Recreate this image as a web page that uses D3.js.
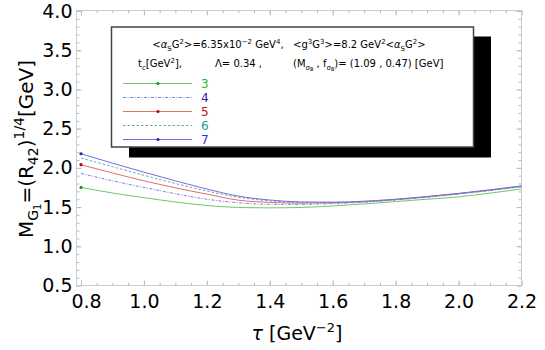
<!DOCTYPE html>
<html>
<head>
<meta charset="utf-8">
<script src="https://cdn.jsdelivr.net/npm/d3@7"></script>
<style>
  body { margin: 0; background: #fff; }
  svg { display: block; font-family: "DejaVu Sans", sans-serif; }
</style>
</head>
<body>
<svg id="chart"></svg>
<script>
// tau values [GeV^-2] and M_G1 curves for each t_c
var tau   = [0.8, 0.9, 1.0, 1.1, 1.2, 1.3, 1.4, 1.5, 1.6, 1.7, 1.8, 1.9, 2.0, 2.1, 2.2];
var tc3   = [1.75, 1.68, 1.62, 1.565, 1.52, 1.495, 1.49, 1.495, 1.515, 1.54, 1.57, 1.60, 1.63, 1.678, 1.73];
var tc4   = [1.93, 1.835, 1.75, 1.67, 1.60, 1.555, 1.535, 1.535, 1.545, 1.562, 1.59, 1.625, 1.665, 1.71, 1.758];
var tc5   = [2.04, 1.935, 1.835, 1.745, 1.665, 1.588, 1.56, 1.55, 1.553, 1.568, 1.595, 1.63, 1.67, 1.715, 1.763];
var tc6   = [2.125, 2.015, 1.905, 1.80, 1.705, 1.625, 1.58, 1.56, 1.56, 1.572, 1.598, 1.633, 1.672, 1.718, 1.765];
var tc7   = [2.18, 2.06, 1.945, 1.835, 1.73, 1.64, 1.59, 1.565, 1.562, 1.575, 1.60, 1.635, 1.675, 1.72, 1.77];
var tcLabels = ["3", "4", "5", "6", "7"];
var xTicks = [0.8, 1.0, 1.2, 1.4, 1.6, 1.8, 2.0, 2.2];
var yTicks = [0.5, 1.0, 1.5, 2.0, 2.5, 3.0, 3.5, 4.0];

var series = [tc3, tc4, tc5, tc6, tc7];
var styles = [
  {line: "#66cc66", text: "#22bb22", dash: null,          dot: "#119911"},
  {line: "#8080dd", text: "#2a2aa0", dash: "3,1.5,1,1.5", dot: null},
  {line: "#dd7070", text: "#bb1111", dash: null,          dot: "#bb0000"},
  {line: "#70a8a8", text: "#229999", dash: "2.5,2",       dot: null},
  {line: "#7070dd", text: "#3030ee", dash: null,          dot: "#2020bb"}
];

var W = 545, H = 350;
var frame = {left: 76.5, right: 521.5, top: 10.5, bottom: 285.5};

var svg = d3.select("#chart").attr("width", W).attr("height", H);

var x = d3.scaleLinear().domain([0.8, 2.2]).range([81, frame.right]);
var y = d3.scaleLinear().domain([0.5, 4.0]).range([frame.bottom, 11]);

// helper for text with sub/superscripts: parts = [text, shift px, size]
function rich(t, parts) {
  var cur = 0;
  parts.forEach(function(p) {
    var s = t.append("tspan").attr("dy", p[1] - cur).attr("font-size", p[2]).text(p[0]);
    if (p[3]) s.attr("font-style", p[3]);
    cur = p[1];
  });
}

// frame and ticks
var minorX = d3.range(0.8, 2.2001, 0.05);
var minorY = d3.range(0.5, 4.0001, 0.1);

function axisGroup(axis, tx, ty) {
  var g = svg.append("g").attr("transform", "translate(" + tx + "," + ty + ")").call(axis);
  g.select(".domain").remove();
  g.selectAll("line").attr("stroke", "#bbb");
  return g;
}

axisGroup(d3.axisBottom(x).tickValues(minorX).tickSize(-3).tickFormat(""), 0, frame.bottom);
axisGroup(d3.axisTop(x).tickValues(minorX).tickSize(-3).tickFormat(""), 0, frame.top);
axisGroup(d3.axisLeft(y).tickValues(minorY).tickSize(-3).tickFormat(""), frame.left, 0);
axisGroup(d3.axisRight(y).tickValues(minorY).tickSize(-3).tickFormat(""), frame.right, 0);
axisGroup(d3.axisTop(x).tickValues(xTicks).tickSize(-5).tickFormat(""), 0, frame.top);
axisGroup(d3.axisRight(y).tickValues(yTicks).tickSize(-5).tickFormat(""), frame.right, 0);

var gx = axisGroup(d3.axisBottom(x).tickValues(xTicks).tickSize(-5).tickPadding(9).tickFormat(d3.format(".1f")), 0, frame.bottom);
gx.selectAll("text").attr("font-size", 19).attr("fill", "#000").attr("font-family", "DejaVu Sans")
  .attr("dx", function(d) { return d === 0.8 ? 5 : 0; });

var gy = axisGroup(d3.axisLeft(y).tickValues(yTicks).tickSize(-5).tickPadding(4).tickFormat(d3.format(".1f")), frame.left, 0);
gy.selectAll("text").attr("font-size", 19).attr("fill", "#000").attr("font-family", "DejaVu Sans");

svg.append("rect")
  .attr("x", frame.left).attr("y", frame.top)
  .attr("width", frame.right - frame.left).attr("height", frame.bottom - frame.top)
  .attr("fill", "none").attr("stroke", "#ccc").attr("stroke-width", 1);

// curves
var line = d3.line()
  .x(function(d, i) { return x(tau[i]); })
  .y(function(d) { return y(d); })
  .curve(d3.curveMonotoneX);

series.forEach(function(vals, k) {
  var st = styles[k];
  svg.append("path")
    .attr("d", line(vals))
    .attr("fill", "none")
    .attr("stroke", st.line)
    .attr("stroke-width", 1)
    .attr("stroke-dasharray", st.dash);
  if (st.dot) {
    svg.append("circle").attr("cx", x(tau[0])).attr("cy", y(vals[0])).attr("r", 1.6).attr("fill", st.dot);
  }
});

// legend box with shadow
svg.append("rect").attr("x", 129).attr("y", 36.5).attr("width", 362).attr("height", 121).attr("fill", "#000");
svg.append("rect").attr("x", 111.5).attr("y", 27).attr("width", 362).attr("height", 120)
  .attr("fill", "#fff").attr("stroke", "#444").attr("stroke-width", 1.5);

var fs = 10, ss = 7;
var l1 = svg.append("text").attr("x", 289).attr("y", 48).attr("text-anchor", "middle")
  .style("white-space", "pre").attr("font-size", fs);
rich(l1, [["<", 0, fs], ["α", 0, fs, "italic"], ["S", 2.5, ss], ["G", 0, fs], ["2", -4, ss],
  [">=6.35x10", 0, fs], ["−2", -4, ss], [" GeV", 0, fs], ["4", -4, ss], [",   <g", 0, fs],
  ["3", -4, ss], ["G", 0, fs], ["3", -4, ss], [">=8.2 GeV", 0, fs], ["2", -4, ss],
  ["<", 0, fs], ["α", 0, fs, "italic"], ["S", 2.5, ss], ["G", 0, fs], ["2", -4, ss], [">", 0, fs]]);

var l2a = svg.append("text").attr("x", 138).attr("y", 67).attr("font-size", fs);
rich(l2a, [["t", 0, fs], ["c", 2.5, ss], ["[GeV", 0, fs], ["2", -4, ss], ["],", 0, fs]]);
var l2b = svg.append("text").attr("x", 215).attr("y", 67).attr("font-size", fs).style("white-space", "pre");
rich(l2b, [["Λ= 0.34 ,", 0, fs]]);
var l2c = svg.append("text").attr("x", 293).attr("y", 67).attr("font-size", fs).style("white-space", "pre");
rich(l2c, [["(M", 0, fs], ["σ", 2.5, ss], ["B", 4, 5], [" , f", 0, fs], ["σ", 2.5, ss], ["B", 4, 5],
  [")= (1.09 , 0.47) [GeV]", 0, fs]]);

var legY = d3.scalePoint().domain(tcLabels).range([83.5, 139.5]);
tcLabels.forEach(function(lab, k) {
  var st = styles[k];
  var yy = legY(lab);
  svg.append("line").attr("x1", 123).attr("x2", 192).attr("y1", yy).attr("y2", yy)
    .attr("stroke", st.line).attr("stroke-width", 1).attr("stroke-dasharray", st.dash);
  if (st.dot) svg.append("circle").attr("cx", 158).attr("cy", yy).attr("r", 1.6).attr("fill", st.dot);
  svg.append("text").attr("x", 201).attr("y", yy + 4.5).attr("font-size", 12)
    .attr("fill", st.text).text(lab);
});

// axis titles
var yt = svg.append("text").attr("transform", "translate(33,149) rotate(-90)")
  .attr("text-anchor", "middle").attr("font-size", 20);
rich(yt, [["M", 0, 20], ["G", 5, 14], ["1", 8, 10], ["=(R", 0, 20], ["42", 5, 14], [")", 0, 20],
  ["1/4", -9, 14], ["[GeV]", 0, 20]]);

var xt = svg.append("text").attr("x", 297).attr("y", 340).attr("text-anchor", "middle").attr("font-size", 19);
rich(xt, [["τ", 0, 19, "italic"], [" [GeV", 0, 19], ["−2", -8, 13], ["]", 0, 19]]);
</script>
</body>
</html>
